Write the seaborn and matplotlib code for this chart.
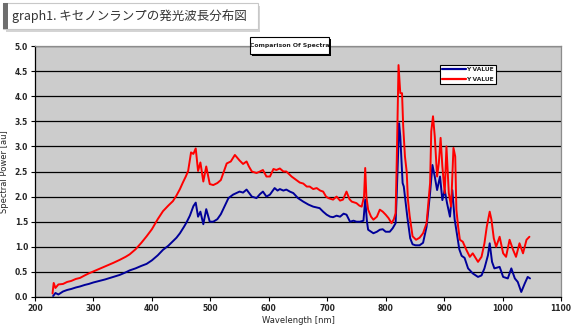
import matplotlib
matplotlib.use("Agg")
import matplotlib.pyplot as plt
from matplotlib.patches import Rectangle
from matplotlib.lines import Line2D
import seaborn as sns
import pandas as pd

# ---------------- data ----------------
blue_wl = [231, 235, 240, 248, 255, 262, 270, 277, 285, 292, 300, 310, 320, 334, 345, 355, 362, 372, 382, 391,
           400, 410, 419, 428, 436, 442, 448, 455, 459, 465, 471, 475, 479, 483, 488, 493, 499, 505, 512, 518,
           522, 531, 539, 550, 556, 562, 571, 579, 585, 590, 596, 602, 610, 615, 619, 625, 630, 636, 642, 650,
           659, 668, 676, 687, 693, 699, 705, 710, 716, 722, 728, 733, 739, 745, 750, 756, 762, 765, 768, 770,
           779, 785, 790, 795, 800, 807, 812, 817, 819, 823, 825, 827, 829, 831, 833, 837, 842, 846, 851, 858,
           864, 870, 876, 880, 884, 888, 893, 897, 901, 905, 910, 914, 918, 922, 926, 930, 935, 941, 949, 958,
           964, 969, 975, 978, 982, 986, 995, 1001, 1009, 1015, 1021, 1026, 1032, 1038, 1043, 1047]
blue_val = [0.02, 0.08, 0.05, 0.11, 0.14, 0.16, 0.19, 0.21, 0.24, 0.26, 0.29, 0.32, 0.35, 0.40, 0.44, 0.49, 0.53, 0.57, 0.62, 0.66,
            0.73, 0.83, 0.94, 1.02, 1.11, 1.18, 1.27, 1.40, 1.48, 1.62, 1.81, 1.88, 1.60, 1.70, 1.45, 1.75, 1.50, 1.50, 1.55, 1.65,
            1.75, 1.97, 2.04, 2.10, 2.08, 2.14, 2.00, 1.97, 2.05, 2.10, 2.00, 2.04, 2.17, 2.12, 2.15, 2.12, 2.14, 2.10, 2.07, 1.97,
            1.90, 1.84, 1.80, 1.77, 1.70, 1.64, 1.60, 1.59, 1.62, 1.60, 1.66, 1.64, 1.50, 1.52, 1.50, 1.50, 1.52, 1.94, 1.50, 1.34,
            1.27, 1.30, 1.34, 1.35, 1.30, 1.30, 1.37, 1.47, 2.07, 3.46, 3.20, 2.73, 2.27, 2.20, 2.00, 1.60, 1.17, 1.05, 1.03, 1.03,
            1.08, 1.40, 2.07, 2.63, 2.40, 2.13, 2.40, 1.93, 2.13, 1.87, 1.60, 2.13, 1.55, 1.25, 0.95, 0.82, 0.78, 0.57, 0.47, 0.40,
            0.43, 0.57, 0.83, 1.07, 0.70, 0.57, 0.60, 0.40, 0.37, 0.57, 0.37, 0.30, 0.10, 0.27, 0.40, 0.37]

red_wl = [230, 232, 235, 240, 248, 255, 262, 270, 277, 285, 292, 300, 310, 320, 334, 345, 355, 362, 372, 382,
          391, 400, 410, 419, 428, 436, 442, 448, 453, 458, 462, 467, 471, 475, 479, 483, 488, 493, 499, 505,
          512, 518, 522, 528, 535, 542, 550, 556, 562, 566, 571, 579, 585, 590, 596, 602, 608, 613, 619, 625,
          630, 639, 647, 653, 659, 665, 670, 676, 682, 688, 693, 698, 702, 710, 716, 722, 727, 733, 738, 742,
          750, 755, 759, 763, 765, 767, 770, 775, 779, 785, 790, 795, 800, 805, 810, 814, 817, 819, 822, 825,
          828, 830, 833, 836, 838, 841, 846, 852, 858, 864, 870, 876, 878, 881, 884, 888, 891, 894, 897, 901,
          904, 908, 912, 916, 919, 921, 924, 927, 932, 938, 944, 949, 958, 964, 969, 973, 978, 981, 985, 989,
          995, 1001, 1006, 1012, 1018, 1023, 1029, 1035, 1041, 1046]
red_val = [0.07, 0.28, 0.18, 0.25, 0.26, 0.30, 0.32, 0.36, 0.38, 0.43, 0.47, 0.51, 0.56, 0.61, 0.68, 0.74, 0.80, 0.85, 0.95, 1.08,
           1.21, 1.35, 1.55, 1.71, 1.82, 1.91, 2.02, 2.15, 2.28, 2.40, 2.51, 2.88, 2.85, 2.96, 2.51, 2.68, 2.30, 2.60, 2.25, 2.23,
           2.27, 2.33, 2.46, 2.66, 2.70, 2.83, 2.72, 2.65, 2.70, 2.60, 2.50, 2.47, 2.50, 2.53, 2.40, 2.40, 2.55, 2.53, 2.56, 2.50,
           2.50, 2.40, 2.33, 2.28, 2.26, 2.20, 2.20, 2.15, 2.17, 2.12, 2.10, 2.00, 1.97, 1.94, 2.00, 1.92, 1.94, 2.10, 1.95, 1.90,
           1.87, 1.82, 1.80, 2.00, 2.57, 2.00, 1.74, 1.60, 1.54, 1.60, 1.74, 1.70, 1.64, 1.57, 1.47, 1.55, 1.67, 2.73, 4.62, 4.06,
           4.06, 3.40, 2.80, 2.49, 1.95, 1.62, 1.21, 1.14, 1.18, 1.27, 1.47, 2.27, 3.30, 3.60, 3.20, 2.40, 2.67, 3.17, 2.60, 2.07,
           3.00, 2.07, 1.80, 2.97, 2.80, 1.74, 1.40, 1.14, 1.10, 0.94, 0.80, 0.87, 0.70, 0.80, 1.07, 1.40, 1.70, 1.54, 1.17, 1.00,
           1.20, 0.87, 0.80, 1.14, 0.94, 0.80, 1.07, 0.87, 1.14, 1.20]

series_names = ["Y VALUE (blue)", "Y VALUE (red)"]
legend_labels = ["Y VALUE", "Y VALUE"]
x_ticks = [200, 300, 400, 500, 600, 700, 800, 900, 1000, 1100]
y_ticks = [0.0, 0.5, 1.0, 1.5, 2.0, 2.5, 3.0, 3.5, 4.0, 4.5, 5.0]
chart_title = "Comparison Of Spectra"
page_title = "graph1. キセノンランプの発光波長分布図"
x_label = "Wavelength [nm]"
y_label = "Spectral Power [au]"

df = pd.concat([
    pd.DataFrame({"wl": blue_wl, "val": blue_val, "series": series_names[0]}),
    pd.DataFrame({"wl": red_wl, "val": red_val, "series": series_names[1]}),
], ignore_index=True)

# ---------------- figure ----------------
sns.set_theme(style="white")
plt.rcParams['font.family'] = ['DejaVu Sans']

W, H = 571, 330
fig = plt.figure(figsize=(W / 100, H / 100), dpi=100)
fig.patch.set_facecolor("white")

def fx(px):
    return px / W

def fy(py):
    return 1 - py / H

ax = fig.add_axes([fx(35), fy(297), fx(561) - fx(35), fy(46) - fy(297)])
ax.set_facecolor("#CCCCCC")

palette = {series_names[0]: "#000099", series_names[1]: "#FF0000"}
sns.lineplot(data=df, x="wl", y="val", hue="series", palette=palette,
             estimator=None, sort=False, linewidth=1.4, ax=ax, legend=False, zorder=3)

ax.set_xlim(200, 1100)
ax.set_ylim(0, 5)
ax.set_xticks(x_ticks)
ax.set_yticks(y_ticks)
ax.set_xticklabels([str(t) for t in x_ticks], fontsize=5.5, fontweight="bold")
ax.set_yticklabels([f"{t:.1f}" for t in y_ticks], fontsize=5.5, fontweight="bold")
ax.tick_params(axis="both", which="both", direction="out", length=3, width=0.8,
               color="black", pad=2, bottom=True, left=True)
ax.yaxis.grid(True, color="black", linewidth=0.9)
ax.xaxis.grid(False)
ax.set_axisbelow(True)
for s in ["left", "bottom"]:
    ax.spines[s].set_color("black")
    ax.spines[s].set_linewidth(0.9)
for s in ["top", "right"]:
    ax.spines[s].set_color("#8C8C8C")
    ax.spines[s].set_linewidth(0.9)

ax.set_xlabel(x_label, fontsize=6)
ax.set_ylabel(y_label, fontsize=6)
ax.yaxis.set_label_coords((9 - 35) / 526, 0.5)
ax.xaxis.set_label_coords(0.5, -(316 - 297) / 251)

# chart title box with shadow
fig.add_artist(Rectangle((fx(252), fy(56)), fx(331) - fx(252), fy(39) - fy(56),
                         transform=fig.transFigure, facecolor="black", edgecolor="none", zorder=5))
fig.add_artist(Rectangle((fx(250), fy(54)), fx(329) - fx(250), fy(37) - fy(54),
                         transform=fig.transFigure, facecolor="white", edgecolor="black",
                         linewidth=0.8, zorder=6))
fig.text(fx(289.5), fy(45.5), chart_title, fontsize=4.4, fontweight="bold",
         ha="center", va="center", zorder=7)

# legend
handles = [Line2D([0], [0], color="#000099", lw=1.6), Line2D([0], [0], color="#FF0000", lw=1.6)]
leg = ax.legend(handles, legend_labels, loc="upper left",
                bbox_to_anchor=(fx(440), fy(64.5)), bbox_transform=fig.transFigure,
                fontsize=4.3, frameon=True, fancybox=False, edgecolor="black",
                framealpha=1, borderpad=0.4, handlelength=4.0, handletextpad=0.0,
                labelspacing=0.8, borderaxespad=0)
leg.get_frame().set_linewidth(0.8)
for t in leg.get_texts():
    t.set_fontweight("bold")

# page title box
fig.add_artist(Rectangle((fx(6), fy(32)), fx(260) - fx(6), fy(6) - fy(32),
                         transform=fig.transFigure, facecolor="#D4D4D4", edgecolor="none", zorder=1))
fig.add_artist(Rectangle((fx(3), fy(29)), fx(258) - fx(3), fy(3) - fy(29),
                         transform=fig.transFigure, facecolor="white", edgecolor="#C8C8C8",
                         linewidth=0.8, zorder=2))
fig.add_artist(Rectangle((fx(3), fy(29)), fx(8) - fx(3), fy(3) - fy(29),
                         transform=fig.transFigure, facecolor="#6E6E6E", edgecolor="none", zorder=3))
fig.text(fx(12), fy(16.5), page_title, fontsize=9,
         family=["Noto Sans CJK JP", "DejaVu Sans"], ha="left", va="center",
         color="#333333", zorder=4)

fig.savefig("out.png", dpi=100, facecolor="white")
